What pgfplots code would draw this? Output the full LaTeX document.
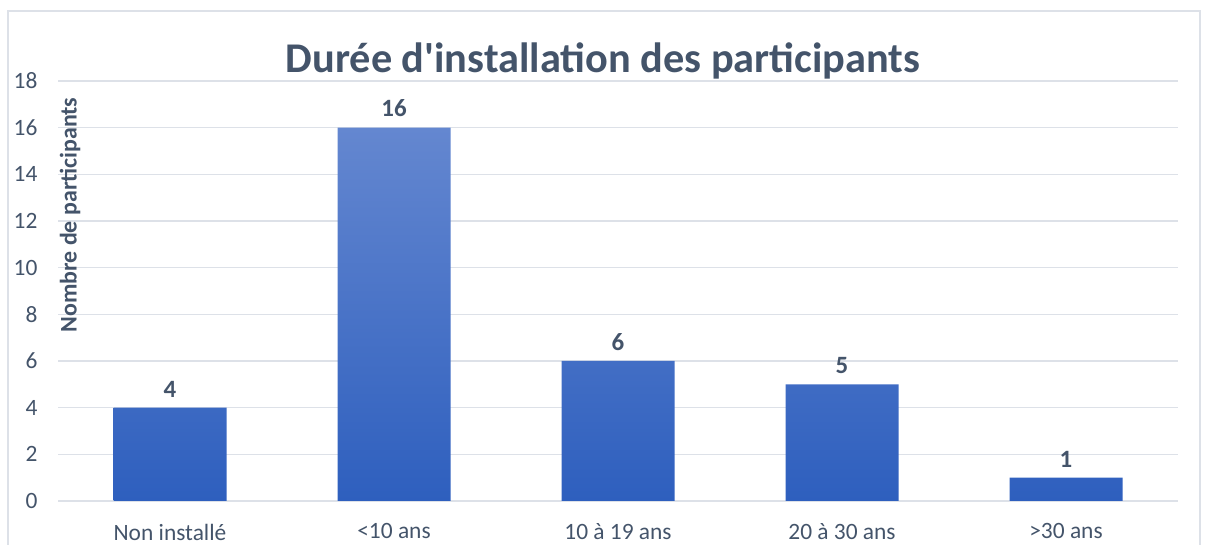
\documentclass[border=0pt]{standalone}
\usepackage{fontspec}
\setmainfont{Carlito}
\usepackage{pgfplots}
\pgfplotsset{compat=1.18}
\definecolor{txt}{HTML}{44546A}
\definecolor{gridc}{HTML}{DDE1E8}
\definecolor{bartop}{HTML}{6487D0}
\definecolor{barbot}{HTML}{2E5FBE}
\begin{document}
\begin{tikzpicture}[x=1bp,y=1bp]
\useasboundingbox (0,0) rectangle (1208,545);
\draw[gridc, line width=1.5bp] (8,0) -- (8,534) -- (1200,534) -- (1200,0);
\begin{axis}[
  at={(58bp,44bp)}, anchor=south west,
  scale only axis, width=1120bp, height=420bp,
  xmin=-0.5, xmax=4.5, ymin=0, ymax=18,
  ytick={0,2,...,18}, xtick={0,...,4},
  xticklabels={Non installé,<10 ans,10 à 19 ans,20 à 30 ans,>30 ans},
  axis line style={draw=none}, major tick style={draw=none},
  ymajorgrids, grid style={gridc, line width=1.5bp},
  /pgf/number format/assume math mode=true,
  ticklabel style={font=\fontsize{23.5}{28}\selectfont, text=txt},
  yticklabel style={xshift=-17bp},
  xticklabel style={yshift=-15bp},
  ybar, bar width=113bp, bar shift=0pt,
  nodes near coords,
  every node near coord/.append style={font=\bfseries\fontsize{25}{30}\selectfont, text=txt, yshift=7bp},
]
\addplot[draw=none, top color=bartop, bottom color=barbot] coordinates {(0,4) (1,16) (2,6) (3,5) (4,1)};
\end{axis}
\node[font=\bfseries\fontsize{42.5}{50}\selectfont, text=txt] at (603,484) {Durée d\textquotesingle installation des participants};
\node[font=\bfseries\fontsize{24}{28}\selectfont, text=txt, rotate=90] at (70,330) {Nombre de participants};
\end{tikzpicture}
\end{document}
